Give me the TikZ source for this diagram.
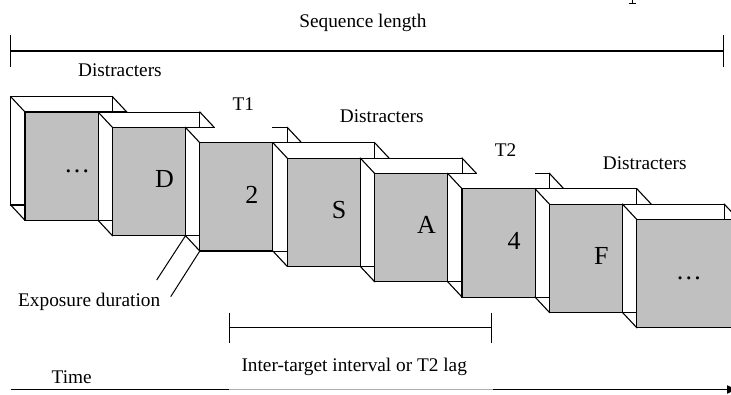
\documentclass[tikz,border=0pt]{standalone}
\usepackage{fontspec}
\setmainfont{Liberation Serif}
\usetikzlibrary{arrows.meta}
\definecolor{cardgray}{RGB}{192,192,192}
\definecolor{axisgray}{RGB}{175,175,175}
\tikzset{
  lbl/.style={font=\fontsize{19.3}{21}\selectfont, anchor=base, inner sep=0pt, outer sep=0pt},
  big/.style={font=\fontsize{26}{28}\selectfont, anchor=base, inner sep=0pt, outer sep=0pt},
  edge/.style={line width=1.1pt, line join=miter, line cap=rect},
  frontface/.style={draw, fill=cardgray, line width=1.1pt, anchor=north west,
    minimum width=101.8pt, minimum height=108.3pt, inner sep=0pt, outer sep=0pt},
  bracket/.style={line width=1.1pt},
  tick/.style={line width=1.3pt},
}
\begin{document}
\begin{tikzpicture}[x=1pt, y=-1pt]
\useasboundingbox (0,0) rectangle (731,394);
\clip (0,0) rectangle (731,394);
\def\W{101.8}
\def\H{108.3}
\def\dx{14.3}
\def\dy{15.3}
% cards
\foreach \i/\t/\tg in {0/{…}/0, 1/D/0, 2/2/1, 3/S/0, 4/A/0, 5/4/1, 6/F/0, 7/{…}/0}{
  \pgfmathsetmacro\x{10.7+87.4*\i}
  \pgfmathsetmacro\y{96.7+15.35*\i}
  \coordinate (btl\i) at (\x,\y);
  \coordinate (btr\i) at (\x+\W,\y);
  \coordinate (bbl\i) at (\x,\y+\H);
  \coordinate (bbr\i) at (\x+\W,\y+\H);
  \fill[white] (btl\i) -- (btr\i) -- ++(\dx,\dy) -- ++(0,\H) -- ++(-\W,0) -- (bbl\i) -- cycle;
  \ifnum\tg=0
    \draw[edge] (btl\i) rectangle (bbr\i);
  \else
    \draw[edge] (\x+87.4,\y) -- (btr\i) -- (bbr\i) -- (bbl\i) -- (btl\i) -- (\x+28.7,\y);
  \fi
  \node[frontface] (f\i) at (\x+\dx,\y+\dy) {};
  \draw[edge] (btl\i) -- (f\i.north west);
  \draw[edge] (btr\i) -- (f\i.north east);
  \draw[edge] (bbl\i) -- (f\i.south west);
  \node[big] (t\i) at (\x+66.3,\y+75.6) {\t};
}
% sequence length bracket
\coordinate (sL) at (10.7,51);
\coordinate (sR) at (723.3,51);
\draw[bracket] (sL) -- (sR);
\draw[line width=1pt] (10.7,35) -- (10.7,66.5);
\draw[tick] (723.3,35) -- (723.3,66.5);
\node[lbl] (seq) at (362.9,27.7) {Sequence length};
% remnant of cut-off text at top
\draw[line width=0.9pt] (632,0) -- (632,3.4);
\draw[line width=0.9pt] (628.6,3.4) -- (635.6,3.4);
% labels
\node[lbl] (d1) at (119.9,76) {Distracters};
\node[lbl] (T1) at (243.3,110) {T1};
\node[lbl] (d2) at (381.7,122.6) {Distracters};
\node[lbl] (T2) at (505.5,156) {T2};
\node[lbl] (d3) at (644.7,169) {Distracters};
\node[lbl] (exp) at (89.2,306.7) {Exposure duration};
% exposure duration pointers
\coordinate (e1) at (156.7,280);
\coordinate (e2) at (170.7,296.7);
\draw[line width=1pt] (e1) -- (bbl2);
\draw[line width=1pt] (e2) -- (f2.south west);
% inter-target interval bracket
\coordinate (iL) at (229,327.7);
\coordinate (iR) at (491,327.7);
\draw[bracket] (iL) -- (iR);
\draw[line width=1pt] (229,312.7) -- (229,343.3);
\draw[line width=1pt] (491,312.7) -- (491,342.8);
\node[lbl] (itl) at (354.2,371.7) {Inter-target interval or T2 lag};
% time axis
\node[lbl] (time) at (71.7,383.6) {Time};
\coordinate (a0) at (10.7,389.5);
\coordinate (a1) at (228.7,389.5);
\coordinate (a2) at (493,389.5);
\coordinate (a3) at (738,389.5);
\draw[line width=1pt, axisgray] (a1) -- (a2);
\draw[line width=1.3pt] (a0) -- (a1);
\draw[line width=1.3pt, -{Latex[length=11pt,width=9pt]}] (a2) -- (a3);
\end{tikzpicture}
\end{document}
